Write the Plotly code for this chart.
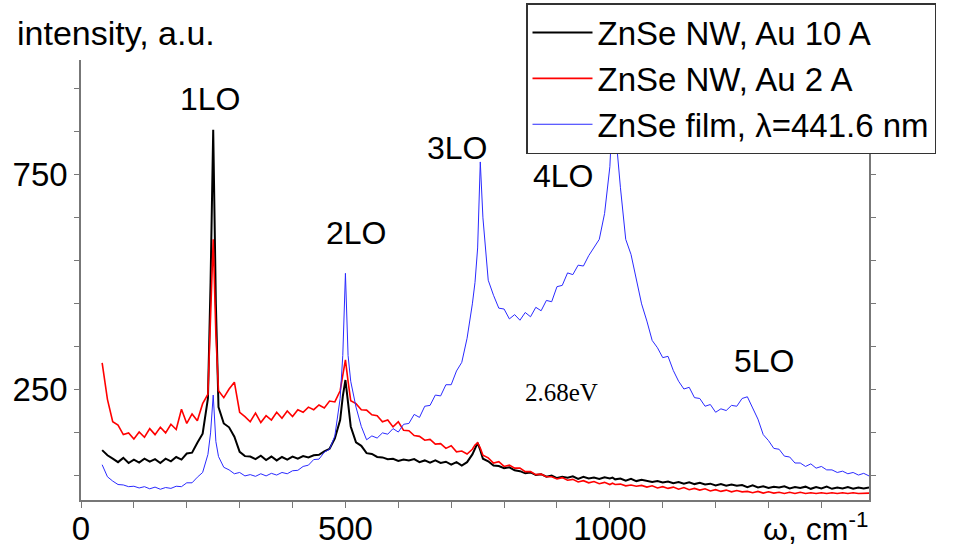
import plotly.graph_objects as go

# Raman shift grid (cm^-1)
WAVENUMBER = [40, 50, 60, 70, 80, 90, 100, 110, 120, 130, 140, 150, 160, 170, 180, 190, 200, 210, 220, 230,
              240, 245, 250, 255, 260, 270, 280, 290, 300, 310, 320, 330, 340, 350, 360, 370, 380, 390, 400,
              410, 420, 430, 440, 450, 460, 470, 480, 490, 495, 500, 505, 510, 520, 530, 540, 550, 560, 570,
              580, 590, 600, 610, 620, 630, 640, 650, 660, 670, 680, 690, 700, 710, 720, 730, 740, 745, 750,
              755, 760, 770, 780, 790, 800, 810, 820, 830, 840, 850, 860, 870, 880, 890, 900, 910, 920, 930,
              940, 950, 960, 970, 980, 990, 1000, 1005, 1010, 1020, 1030, 1040, 1050, 1060, 1070, 1080, 1090,
              1100, 1110, 1120, 1130, 1140, 1150, 1160, 1170, 1180, 1190, 1200, 1210, 1220, 1230, 1240, 1250,
              1260, 1270, 1280, 1290, 1300, 1310, 1320, 1330, 1340, 1350, 1360, 1370, 1380, 1390, 1400, 1410,
              1420, 1430, 1440, 1450, 1460, 1470, 1480, 1490]

AU10 = [110, 98, 90, 82, 92, 80, 88, 81, 90, 83, 89, 80, 90, 84, 94, 88, 102, 104, 127, 148,
        230, 500, 855, 450, 210, 172, 163, 141, 106, 96, 95, 89, 97, 87, 95, 86, 94, 88, 95,
        90, 96, 93, 98, 99, 107, 113, 137, 180, 235, 273, 220, 165, 128, 120, 103, 101, 94, 93,
        89, 90, 85, 88, 86, 89, 82, 86, 81, 86, 80, 83, 76, 82, 74, 82, 100, 115, 127,
        110, 90, 84, 74, 73, 68, 70, 63, 61, 56, 58, 52, 54, 48, 51, 45, 48, 46, 49,
        43, 48, 44, 46, 43, 47, 44, 46, 42, 44, 39, 43, 38, 41, 39, 36, 38,
        35, 37, 33, 36, 32, 35, 31, 34, 30, 32, 28, 31, 27, 30, 27, 29,
        24, 28, 23, 26, 22, 25, 23, 26, 21, 24, 22, 25, 20, 24, 21, 25,
        20, 23, 21, 24, 20, 23, 21, 23]

AU2 = [313, 228, 176, 168, 146, 150, 136, 152, 140, 160, 146, 163, 150, 170, 158, 205, 172, 194, 178, 218,
       240, 420, 600, 380, 248, 232, 252, 268, 198, 188, 176, 196, 174, 190, 180, 198, 184, 201, 188,
       204, 198, 210, 204, 215, 208, 224, 222, 248, 280, 320, 270, 225, 218, 204, 203, 192, 190, 176,
       180, 164, 176, 156, 155, 144, 142, 133, 135, 124, 125, 114, 120, 106, 108, 101, 112, 122, 127,
       115, 98, 92, 80, 83, 72, 75, 68, 68, 60, 60, 53, 54, 48, 48, 43, 46, 40, 42,
       36, 39, 34, 37, 32, 35, 30, 33, 30, 31, 27, 29, 26, 28, 24, 27, 22,
       25, 21, 24, 19, 23, 18, 21, 17, 20, 15, 18, 14, 17, 13, 16, 13,
       14, 11, 14, 10, 13, 10, 12, 9, 12, 9, 12, 9, 11, 9, 11, 9,
       11, 9, 11, 9, 11, 9, 10, 10]

FILM = [76, 48, 38, 30, 29, 25, 26, 22, 25, 20, 24, 19, 23, 21, 26, 25, 34, 34, 47, 58,
        100, 150, 238, 130, 95, 70, 64, 55, 58, 50, 53, 49, 55, 50, 56, 52, 58, 55, 62,
        63, 72, 75, 88, 89, 105, 112, 143, 230, 330, 521, 330, 270, 210, 165, 134, 143, 138, 150,
        147, 160, 152, 170, 172, 193, 186, 212, 214, 238, 236, 262, 262, 294, 314, 370, 450, 500, 580,
        780, 650, 505, 470, 440, 438, 415, 425, 412, 430, 420, 442, 434, 458, 455, 490, 493, 522, 518,
        540, 538, 562, 580, 600, 660, 769, 900, 860, 720, 600, 565, 505, 450, 410, 365, 348,
        325, 328, 295, 270, 252, 256, 232, 230, 212, 216, 198, 206, 202, 214, 212, 230,
        234, 208, 182, 146, 132, 114, 112, 96, 94, 80, 80, 72, 78, 68, 72, 64,
        64, 58, 61, 55, 58, 52, 56, 50]

SERIES_NAMES = ["ZnSe NW, Au 10 A", "ZnSe NW, Au 2 A", "ZnSe film, \u03bb=441.6 nm"]
PEAK_LABELS = ["1LO", "2LO", "3LO", "4LO", "5LO"]
PEAK_X = [244, 520, 711, 911, 1291]
PEAK_Y = [927, 615, 813, 748, 317]

W, H = 964, 551
L, R, T, B = 81, 869, 60, 500


def px_x(p):
    return (p - L) / (R - L)


def px_y(p):
    return (B - p) / (B - T)


fig = go.Figure()
fig.add_trace(go.Scatter(x=WAVENUMBER, y=AU10, mode="lines", name=SERIES_NAMES[0],
                         line=dict(color="#000000", width=2)))
fig.add_trace(go.Scatter(x=WAVENUMBER, y=AU2, mode="lines", name=SERIES_NAMES[1],
                         line=dict(color="#ff0000", width=1.6)))
fig.add_trace(go.Scatter(x=WAVENUMBER, y=FILM, mode="lines", name=SERIES_NAMES[2],
                         line=dict(color="#2a2aff", width=1)))

FONT = "Arial, 'Liberation Sans', sans-serif"
annotations = []
for lab, xx, yy in zip(PEAK_LABELS, PEAK_X, PEAK_Y):
    annotations.append(dict(x=xx, y=yy, xref="x", yref="y", text=lab, showarrow=False,
                            font=dict(family=FONT, size=32, color="black")))
annotations.append(dict(x=909, y=245, xref="x", yref="y", text="2.68eV", showarrow=False,
                        font=dict(family="'Times New Roman', 'Liberation Serif', serif", size=25, color="black")))
annotations.append(dict(x=px_x(15), y=px_y(33), xref="paper", yref="paper", xanchor="left", yanchor="middle",
                        text="intensity, a.u.", showarrow=False,
                        font=dict(family=FONT, size=34, color="black")))
annotations.append(dict(x=px_x(870), y=px_y(527), xref="paper", yref="paper", xanchor="right", yanchor="middle",
                        text="\u03c9, cm<sup>-1</sup>",
                        showarrow=False, font=dict(family=FONT, size=32, color="black")))

fig.update_layout(
    width=W, height=H,
    margin=dict(l=L, r=W - R, t=T, b=H - B, pad=0, autoexpand=False),
    paper_bgcolor="white", plot_bgcolor="white",
    showlegend=True,
    legend=dict(x=px_x(526), y=px_y(3), xanchor="left", yanchor="top",
                bgcolor="white", bordercolor="#333333", borderwidth=1.5,
                font=dict(family=FONT, size=33, color="black"),
                itemwidth=60, tracegroupgap=0),
    annotations=annotations,
    font=dict(family=FONT, color="black"),
)
fig.update_xaxes(range=[0, 1490], tickvals=[0, 500, 1000], ticks="outside", ticklen=6, tickwidth=1,
                 tickcolor="#777777", showline=True, linecolor="#777777", linewidth=1.5, automargin=False,
                 ticklabelstandoff=-7,
                 showgrid=False, zeroline=False, tickfont=dict(family=FONT, size=33, color="black"),
                 minor=dict(dtick=100, tick0=0, ticks="outside", ticklen=6, tickcolor="#777777", showgrid=False))
fig.update_yaxes(range=[-6, 1017], tickvals=[250, 750], ticks="outside", ticklen=5, tickwidth=1,
                 tickcolor="#777777", showline=True, linecolor="#777777", linewidth=1.5, mirror="ticks",
                 automargin=False,
                 showgrid=False, zeroline=False, tickfont=dict(family=FONT, size=33, color="black"),
                 minor=dict(dtick=100, tick0=50, ticks="outside", ticklen=5, tickcolor="#777777", showgrid=False))

fig.write_html("out.html")
